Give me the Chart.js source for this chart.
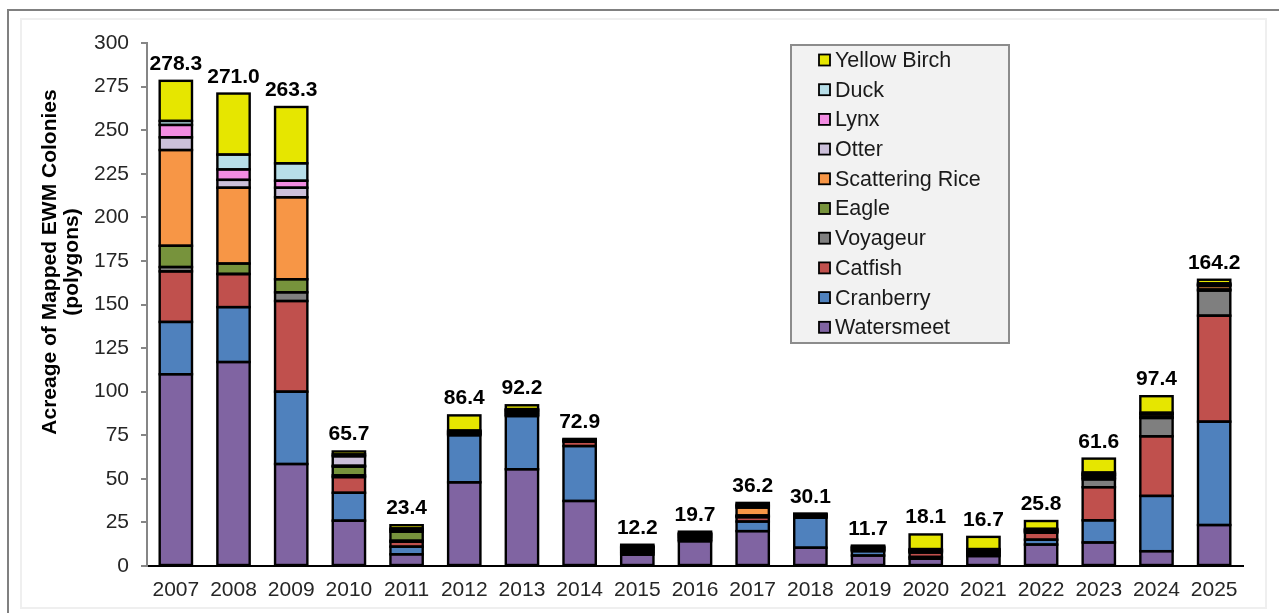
<!DOCTYPE html>
<html><head><meta charset="utf-8">
<script src="https://cdn.jsdelivr.net/npm/chart.js@4/dist/chart.umd.min.js"></script>
<style>
html,body{margin:0;padding:0;background:#fff;width:1279px;height:613px;overflow:hidden;}
#outer{position:absolute;left:7px;top:9px;width:1300px;height:700px;border-left:2px solid #808080;border-top:2px solid #808080;}
#inner{position:absolute;left:20px;top:18px;width:1243px;height:587px;border:2px solid #efefef;}
#wrap{position:absolute;left:0;top:0;width:1279px;height:613px;}
</style></head><body>
<div id="outer"></div><div id="inner"></div>
<div id="wrap"><canvas id="c" width="1279" height="613"></canvas></div>
<script>
const years = ["2007","2008","2009","2010","2011","2012","2013","2014","2015","2016","2017","2018","2019","2020","2021","2022","2023","2024","2025"];
const watersmeet     = [110, 117, 58.5, 26, 6.7, 48, 55.5, 37.3, 6.5, 14.2, 20, 10.5, 6, 4.2, 5.7, 12.3, 13.5, 8.5, 23.5];
const cranberry      = [30, 31.5, 41.5, 16, 4.4, 27, 30.5, 31.5, 0.8, 0.8, 5.5, 17.2, 2.5, 1, 0.8, 2.8, 12.7, 31.7, 59.3];
const catfish        = [29, 19, 52, 9, 2.8, 0.6, 0.8, 2.5, 0.8, 0.8, 2.5, 0.6, 0.6, 2.5, 0.8, 4, 19, 34.2, 60.8];
const voyageur       = [2.5, 0, 5, 1, 0.6, 0.5, 0.7, 0.5, 0.8, 0.7, 0.5, 0.4, 0.5, 0.5, 0.7, 0.6, 4.5, 10.5, 14.4];
const eagle          = [12.2, 6, 7.5, 5, 5.2, 0.5, 0.7, 0.3, 0.6, 0.6, 0.5, 0.3, 0.5, 0.5, 0.7, 0.5, 0.8, 0.5, 0.6];
const scatteringRice = [54.9, 43.5, 47, 0.5, 1.0, 0.6, 0.8, 0.4, 0.8, 0.7, 4.5, 0.4, 0.6, 0.5, 0.5, 0.6, 1, 1.5, 2];
const otter          = [7.3, 4.5, 5.5, 5.5, 0.7, 0, 0.5, 0, 0.5, 0.5, 0.9, 0, 0, 0, 0, 0, 0.8, 0.3, 0.5];
const lynx           = [7.1, 6, 4, 0, 0, 0, 0, 0, 0, 0, 0, 0, 0, 0, 0, 0, 0.5, 0.3, 0.4];
const duck           = [2.3, 8.5, 10, 1, 0, 0.5, 0.5, 0, 0.5, 0.5, 0.8, 0.3, 0.4, 0.5, 0.5, 0.5, 0.8, 0.4, 0.6];
const yellowBirch    = [23, 35, 32.3, 1.7, 2, 8.7, 2.2, 0.4, 0.9, 0.9, 1.0, 0.4, 0.6, 8.4, 7.0, 4.5, 8, 9.5, 2.1];
const totals         = [278.3, 271.0, 263.3, 65.7, 23.4, 86.4, 92.2, 72.9, 12.2, 19.7, 36.2, 30.1, 11.7, 18.1, 16.7, 25.8, 61.6, 97.4, 164.2];
const yTicks         = [0, 25, 50, 75, 100, 125, 150, 175, 200, 225, 250, 275, 300];

const FONT = "'Liberation Sans', Arial, sans-serif";
const series = [
  ["Watersmeet", watersmeet, "#8064a2"],
  ["Cranberry", cranberry, "#4f81bd"],
  ["Catfish", catfish, "#c0504d"],
  ["Voyageur", voyageur, "#7f7f7f"],
  ["Eagle", eagle, "#77933c"],
  ["Scattering Rice", scatteringRice, "#f79646"],
  ["Otter", otter, "#ccc0da"],
  ["Lynx", lynx, "#f28ce2"],
  ["Duck", duck, "#b7dee8"],
  ["Yellow Birch", yellowBirch, "#e6e600"]
];

const outlinePlugin = {
  id: 'outline',
  afterDatasetsDraw(chart) {
    const ctx = chart.ctx;
    ctx.save();
    ctx.strokeStyle = '#000';
    ctx.lineWidth = 2.4;
    chart.data.datasets.forEach((ds, di) => {
      const meta = chart.getDatasetMeta(di);
      meta.data.forEach(el => {
        const p = el.getProps(['x','y','base','width'], true);
        const top = Math.min(p.y, p.base), h = Math.abs(p.base - p.y);
        ctx.strokeRect(p.x - p.width/2, top, p.width, h);
      });
    });
    const last = chart.getDatasetMeta(chart.data.datasets.length - 1);
    ctx.fillStyle = '#000';
    ctx.font = "bold 21px " + FONT;
    ctx.textAlign = 'center';
    ctx.textBaseline = 'alphabetic';
    last.data.forEach((el, i) => {
      const p = el.getProps(['x','y'], true);
      ctx.fillText(totals[i].toFixed(1), p.x, p.y - 11);
    });
    ctx.restore();
  },
  afterDraw(chart) {
    const ctx = chart.ctx;
    ctx.save();
    ctx.fillStyle = '#000';
    ctx.font = "bold 21px " + FONT;
    ctx.textAlign = 'center';
    ctx.textBaseline = 'middle';
    const lines = ["Acreage of Mapped EWM Colonies", "(polygons)"];
    const xs = [50, 72];
    lines.forEach((t, i) => {
      ctx.save();
      ctx.translate(xs[i], 262);
      ctx.rotate(-Math.PI/2);
      ctx.fillText(t, 0, 0);
      ctx.restore();
    });
    const bx = 791, by = 45, bw = 218, bh = 298;
    ctx.fillStyle = '#f2f2f2';
    ctx.fillRect(bx, by, bw, bh);
    ctx.strokeStyle = '#8c8c8c';
    ctx.lineWidth = 2;
    ctx.strokeRect(bx, by, bw, bh);
    ctx.font = "21.5px " + FONT;
    ctx.textAlign = 'left';
    ctx.textBaseline = 'middle';
    const ds = chart.data.datasets.slice().reverse();
    ds.forEach((d, i) => {
      const cy = 60 + i * 29.7;
      ctx.fillStyle = d.backgroundColor;
      ctx.fillRect(819, cy - 5.5, 11, 11);
      ctx.strokeStyle = '#000';
      ctx.lineWidth = 1.8;
      ctx.strokeRect(819, cy - 5.5, 11, 11);
      ctx.fillStyle = '#1a1a1a';
      ctx.fillText(d.label, 835, cy + 1);
    });
    ctx.restore();
  }
};

new Chart(document.getElementById('c'), {
  type: 'bar',
  data: {
    labels: years,
    datasets: series.map(s => ({
      label: s[0], data: s[1], backgroundColor: s[2], borderWidth: 0,
      barPercentage: 0.56, categoryPercentage: 1.0
    }))
  },
  options: {
    responsive: false,
    animation: false,
    devicePixelRatio: 1,
    layout: { padding: { left: 20, top: 43, right: 36, bottom: 0 } },
    plugins: { legend: { display: false }, tooltip: { enabled: false } },
    scales: {
      x: {
        stacked: true,
        grid: { display: false, drawTicks: false },
        border: { color: '#000', width: 2 },
        ticks: { font: { family: FONT, size: 21 }, color: '#262626', padding: 12, maxRotation: 0 },
        afterFit(s) { s.height = 47; }
      },
      y: {
        stacked: true, min: 0, max: 300,
        afterBuildTicks(s) { s.ticks = yTicks.map(v => ({ value: v })); },
        ticks: { font: { family: FONT, size: 21 }, color: '#262626', padding: 12 },
        grid: { drawOnChartArea: false, drawTicks: true, tickLength: 6, color: '#868686', lineWidth: 2 },
        border: { color: '#868686', width: 2 },
        afterFit(s) { s.width = 127; }
      }
    }
  },
  plugins: [outlinePlugin]
});
</script>
</body></html>
